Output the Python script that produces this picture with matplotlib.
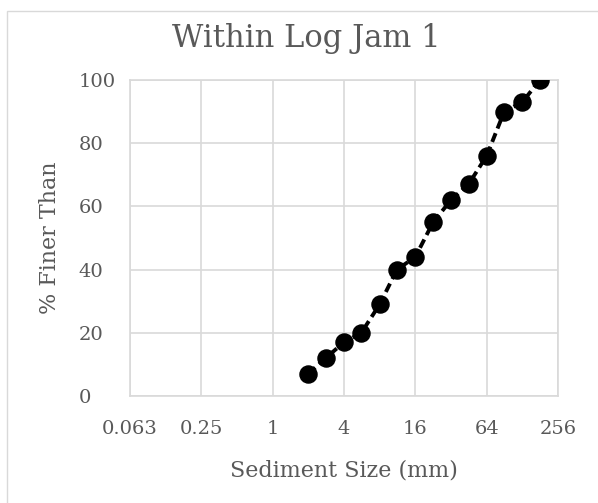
import matplotlib
matplotlib.use("Agg")
import matplotlib.pyplot as plt
from matplotlib.patches import Rectangle
from matplotlib.ticker import FixedLocator, FixedFormatter, NullLocator

# grain size (mm) and cumulative percent finer
sizes = [2, 2.8, 4, 5.6, 8, 11.2, 16, 22.6, 32, 45, 64, 90, 128, 180]
pct_finer = [7, 12, 17, 20, 29, 40, 44, 55, 62, 67, 76, 90, 93, 100]

x_ticks = [0.0625, 0.25, 1, 4, 16, 64, 256]
x_tick_labels = ["0.063", "0.25", "1", "4", "16", "64", "256"]
y_ticks = [0, 20, 40, 60, 80, 100]

text_color = "#595959"
grid_color = "#d9d9d9"
plt.rcParams["font.family"] = ["DejaVu Serif"]

W, H = 598, 503
fig = plt.figure(figsize=(W / 100, H / 100), dpi=100)
# axes box in pixels: left 130, right 558, top 80, bottom 396
ax = fig.add_axes([130 / W, (H - 396) / H, 428 / W, 316 / H])

ax.plot(sizes, pct_finer, color="black", linestyle=(0, (2.4, 1.3)), linewidth=2.8,
        marker="o", markersize=12.3, zorder=3)

ax.set_xscale("log", base=4)
ax.set_xlim(0.0625, 256)
ax.set_ylim(0, 100)
ax.xaxis.set_major_locator(FixedLocator(x_ticks))
ax.xaxis.set_major_formatter(FixedFormatter(x_tick_labels))
ax.xaxis.set_minor_locator(NullLocator())
ax.set_yticks(y_ticks)

ax.grid(True, color=grid_color, linewidth=1.2)
ax.set_axisbelow(True)
for s in ax.spines.values():
    s.set_color(grid_color)
    s.set_linewidth(1.2)
ax.tick_params(length=0, colors=text_color, labelsize=14)
ax.tick_params(axis="x", pad=17)
ax.tick_params(axis="y", pad=37)
for lbl in ax.get_yticklabels():
    lbl.set_horizontalalignment("left")

fig.text(344 / W, 1 - 470 / H, "Sediment Size (mm)", color=text_color, fontsize=16,
         ha="center", va="center")
fig.text(50 / W, 1 - 238 / H, "% Finer Than", color=text_color, fontsize=16,
         rotation=90, ha="center", va="center")
fig.text(306 / W, 1 - 38 / H, "Within Log Jam 1", color=text_color, fontsize=22,
         ha="center", va="center")

fig.patches.append(Rectangle((7 / W, -0.05), 1.1, 1.05 - 11 / H, transform=fig.transFigure,
                             fill=False, edgecolor=grid_color, linewidth=1))

fig.savefig("out.png", dpi=100)
